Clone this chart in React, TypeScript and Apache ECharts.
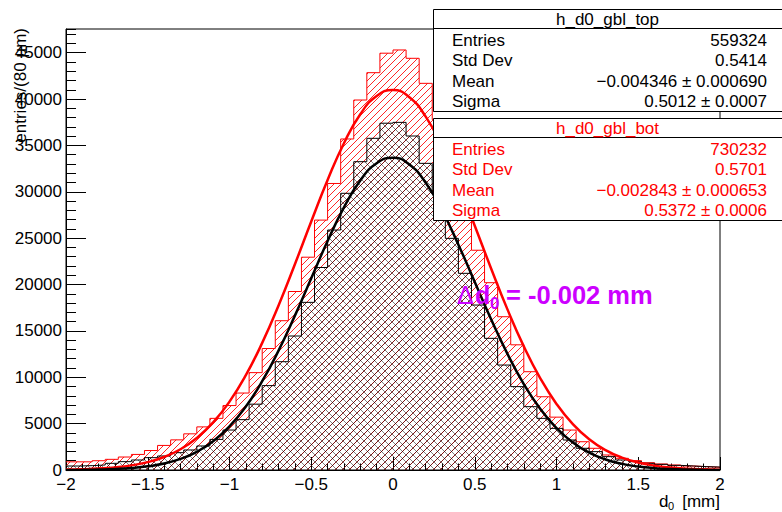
import React, { useEffect, useRef } from "react";
import * as echarts from "echarts";

// Histogram binning (80 um bins from -2 to 2 mm)
const binMin = -2;
const binWidth = 0.08;

// h_d0_gbl_bot (red) bin contents
const botCounts = [
  880, 880, 1000, 1150, 1400, 1680, 2100, 2650, 3250, 3900,
  4650, 5570, 6950, 8300, 10500, 13100, 16100, 19250, 22950, 26950,
  30900, 35700, 39900, 42850, 44950, 45300, 44400, 41700, 37800, 33000,
  28200, 23700, 20200, 16530, 13500, 10600, 7900, 5700, 4310, 3050,
  2340, 1620, 1260, 1010, 790, 650, 540, 430, 360, 290,
];

// h_d0_gbl_top (black) bin contents
const topCounts = [
  430, 470, 540, 720, 900, 1080, 1330, 1510, 1870, 2160,
  2590, 3300, 4310, 5430, 7100, 9100, 11680, 14450, 18080, 21840,
  25880, 29840, 33250, 35770, 37400, 37490, 36020, 33070, 29760, 24980,
  21210, 17790, 14200, 11320, 8990, 6830, 5570, 4490, 3235, 2340,
  1980, 1440, 1080, 900, 720, 610, 500, 430, 360, 320,
];

// Gaussian fit curves, sampled every 0.1 mm
const fitX = [
  -2.0, -1.9, -1.8, -1.7, -1.6, -1.5, -1.4, -1.3, -1.2, -1.1,
  -1.0, -0.9, -0.8, -0.7, -0.6, -0.5, -0.4, -0.3, -0.2, -0.1,
  0.0, 0.1, 0.2, 0.3, 0.4, 0.5, 0.6, 0.7, 0.8, 0.9,
  1.0, 1.1, 1.2, 1.3, 1.4, 1.5, 1.6, 1.7, 1.8, 1.9, 2.0,
];
const botFit = [
  41, 81, 154, 282, 499, 853, 1406, 2241, 3452, 5135,
  7373, 10228, 13708, 17748, 22191, 26805, 31276, 35243, 38366, 40345,
  40978, 40205, 38104, 34878, 30846, 26346, 21736, 17322, 13335, 9917,
  7122, 4942, 3312, 2144, 1340, 809, 472, 266, 145, 76, 39,
];
const topFit = [
  12, 26, 55, 111, 213, 394, 701, 1196, 1964, 3096,
  4695, 6838, 9572, 12880, 16648, 20683, 24691, 28325, 31225, 33081,
  33680, 32949, 30976, 27988, 24300, 20275, 16254, 12526, 9272, 6598,
  4510, 2965, 1872, 1136, 662, 371, 200, 103, 51, 25, 11,
];

const yMax = 47560;

const topStats = [
  ["Entries", "559324"],
  ["Std Dev", "0.5414"],
  ["Mean", "\u22120.004346 \u00b1 0.000690"],
  ["Sigma", "0.5012 \u00b1 0.0007"],
];
const botStats = [
  ["Entries", "730232"],
  ["Std Dev", "0.5701"],
  ["Mean", "\u22120.002843 \u00b1 0.000653"],
  ["Sigma", "0.5372 \u00b1 0.0006"],
];

const FONT = "'Liberation Sans', Arial, Helvetica, sans-serif";
const RED = "#ff0000";
const VIOLET = "#cc00ff";

function stepData(counts: number[]) {
  const pts: number[][] = counts.map((c, i) => [+(binMin + i * binWidth).toFixed(2), c]);
  pts.push([+(binMin + counts.length * binWidth).toFixed(2), counts[counts.length - 1]]);
  return pts;
}

function hatch(color: string, cross: boolean) {
  const s = 7;
  const c = document.createElement("canvas");
  c.width = s;
  c.height = s;
  const ctx = c.getContext("2d")!;
  ctx.strokeStyle = color;
  ctx.lineWidth = 1;
  ctx.beginPath();
  for (const o of [-s, 0, s]) {
    ctx.moveTo(o, s);
    ctx.lineTo(o + s, 0);
  }
  if (cross) {
    for (const o of [-s, 0, s]) {
      ctx.moveTo(o, 0);
      ctx.lineTo(o + s, s);
    }
  }
  ctx.stroke();
  return c;
}

function statsBox(top: number, title: string, rows: string[][], color: string) {
  const els: any[] = [];
  els.push({
    type: "rect",
    z: 100,
    shape: { x: 433.5, y: top + 0.5, width: 360, height: 102 },
    style: { fill: "#fff", stroke: "#000", lineWidth: 1 },
  });
  els.push({
    type: "line",
    z: 101,
    shape: { x1: 433.5, y1: top + 19.5, x2: 790, y2: top + 19.5 },
    style: { stroke: "#000", lineWidth: 1 },
  });
  els.push({
    type: "text",
    z: 102,
    x: 607.5,
    y: top + 10,
    style: { text: title, fill: color, fontSize: 17, fontFamily: FONT, textAlign: "center", textVerticalAlign: "middle" },
  });
  rows.forEach((r, i) => {
    const y = top + 31 + i * 20.5;
    els.push({
      type: "text",
      z: 102,
      x: 452,
      y,
      style: { text: r[0], fill: color, fontSize: 17, fontFamily: FONT, textAlign: "left", textVerticalAlign: "middle" },
    });
    els.push({
      type: "text",
      z: 102,
      x: 767,
      y,
      style: { text: r[1], fill: color, fontSize: 17, fontFamily: FONT, textAlign: "right", textVerticalAlign: "middle" },
    });
  });
  return els;
}

export default function App() {
  const ref = useRef<HTMLDivElement>(null);
  useEffect(() => {
    if (!ref.current) return;
    const chart = echarts.init(ref.current, undefined, { renderer: "svg" });
    const redPattern = { image: hatch("rgba(255,0,0,0.85)", false), repeat: "repeat" };
    const blackPattern = { image: hatch("rgba(0,0,0,0.5)", true), repeat: "repeat" };
    const labelStyle = { fontSize: 17, color: "#000", fontFamily: FONT };
    const option: any = {
      animation: false,
      backgroundColor: "#fff",
      textStyle: { fontFamily: FONT },
      grid: {
        left: 66,
        top: 29,
        right: 62,
        bottom: 42,
        show: true,
        borderColor: "#000",
        borderWidth: 1,
        backgroundColor: "transparent",
      },
      xAxis: {
        type: "value",
        min: -2,
        max: 2,
        interval: 0.5,
        axisLine: { show: true, onZero: false, lineStyle: { color: "#000", width: 1 } },
        axisTick: { show: true, inside: true, length: 13, lineStyle: { color: "#000" } },
        minorTick: { show: true, splitNumber: 5, length: 6.5, lineStyle: { color: "#000" } },
        splitLine: { show: false },
        axisLabel: {
          ...labelStyle,
          margin: 7,
          lineHeight: 15,
          formatter: (v: number) => (v < 0 ? "\u2212" + Math.abs(v) : String(v)),
        },
      },
      yAxis: [
        {
          type: "value",
          min: 0,
          max: yMax,
          interval: 5000,
          position: "left",
          axisLine: { show: true, onZero: false, lineStyle: { color: "#000", width: 1 } },
          axisTick: { show: true, inside: true, length: 20, lineStyle: { color: "#000" } },
          splitLine: { show: false },
          axisLabel: { ...labelStyle, margin: 4, lineHeight: 14, showMaxLabel: false, formatter: (v: number) => String(v) },
        },
        {
          type: "value",
          min: 0,
          max: yMax,
          interval: 1000,
          position: "left",
          axisLine: { show: false, onZero: false },
          axisTick: { show: true, inside: true, length: 10, lineStyle: { color: "#000" } },
          splitLine: { show: false },
          axisLabel: { show: false },
        },
      ],
      series: [
        {
          name: "h_d0_gbl_bot",
          type: "line",
          step: "end",
          data: stepData(botCounts),
          symbol: "none",
          lineStyle: { color: RED, width: 1 },
          areaStyle: { color: redPattern, opacity: 1 },
          z: 2,
        },
        {
          name: "h_d0_gbl_top",
          type: "line",
          step: "end",
          data: stepData(topCounts),
          symbol: "none",
          lineStyle: { color: "#000", width: 1 },
          areaStyle: { color: blackPattern, opacity: 1 },
          z: 3,
        },
        {
          name: "fit bot",
          type: "line",
          smooth: true,
          data: fitX.map((x, i) => [x, botFit[i]]),
          symbol: "none",
          lineStyle: { color: RED, width: 2.5 },
          z: 4,
        },
        {
          name: "fit top",
          type: "line",
          smooth: true,
          data: fitX.map((x, i) => [x, topFit[i]]),
          symbol: "none",
          lineStyle: { color: "#000", width: 2.5 },
          z: 5,
        },
      ],
      graphic: [
        ...statsBox(9, "h_d0_gbl_top", topStats, "#000"),
        ...statsBox(118, "h_d0_gbl_bot", botStats, RED),
        // y axis title
        {
          type: "text",
          z: 50,
          x: 20,
          y: 28,
          rotation: Math.PI / 2,
          style: { text: "entries/(80 \u03bcm)", fill: "#000", fontSize: 17, fontFamily: FONT, textAlign: "right", textVerticalAlign: "middle" },
        },
        // x axis title: d0 [mm]
        {
          type: "text",
          z: 50,
          x: 659,
          y: 501,
          style: { text: "d", fill: "#000", fontSize: 17, fontFamily: FONT, textAlign: "left", textVerticalAlign: "middle" },
        },
        {
          type: "text",
          z: 50,
          x: 668,
          y: 505.5,
          style: { text: "0", fill: "#000", fontSize: 11, fontFamily: FONT, textAlign: "left", textVerticalAlign: "middle" },
        },
        {
          type: "text",
          z: 50,
          x: 720,
          y: 501,
          style: { text: "[mm]", fill: "#000", fontSize: 17, fontFamily: FONT, textAlign: "right", textVerticalAlign: "middle" },
        },
        // Delta d0 annotation
        {
          type: "text",
          z: 60,
          x: 457,
          y: 295,
          style: { text: "\u0394", fill: VIOLET, fontSize: 25, fontFamily: FONT, textAlign: "left", textVerticalAlign: "middle" },
        },
        {
          type: "text",
          z: 60,
          x: 475,
          y: 295,
          style: { text: "d", fill: VIOLET, fontSize: 25, fontWeight: "bold", fontFamily: FONT, textAlign: "left", textVerticalAlign: "middle" },
        },
        {
          type: "text",
          z: 60,
          x: 490,
          y: 303,
          style: { text: "0", fill: VIOLET, fontSize: 17, fontWeight: "bold", fontFamily: FONT, textAlign: "left", textVerticalAlign: "middle" },
        },
        {
          type: "text",
          z: 60,
          x: 506,
          y: 295,
          style: { text: "= -0.002 mm", fill: VIOLET, fontSize: 25.5, fontWeight: "bold", fontFamily: FONT, textAlign: "left", textVerticalAlign: "middle" },
        },
      ],
    };
    chart.setOption(option);
    return () => chart.dispose();
  }, []);
  return (
    <div
      ref={ref}
      style={{ position: "fixed", left: 0, top: 0, width: 782, height: 512, background: "#fff" }}
    />
  );
}
